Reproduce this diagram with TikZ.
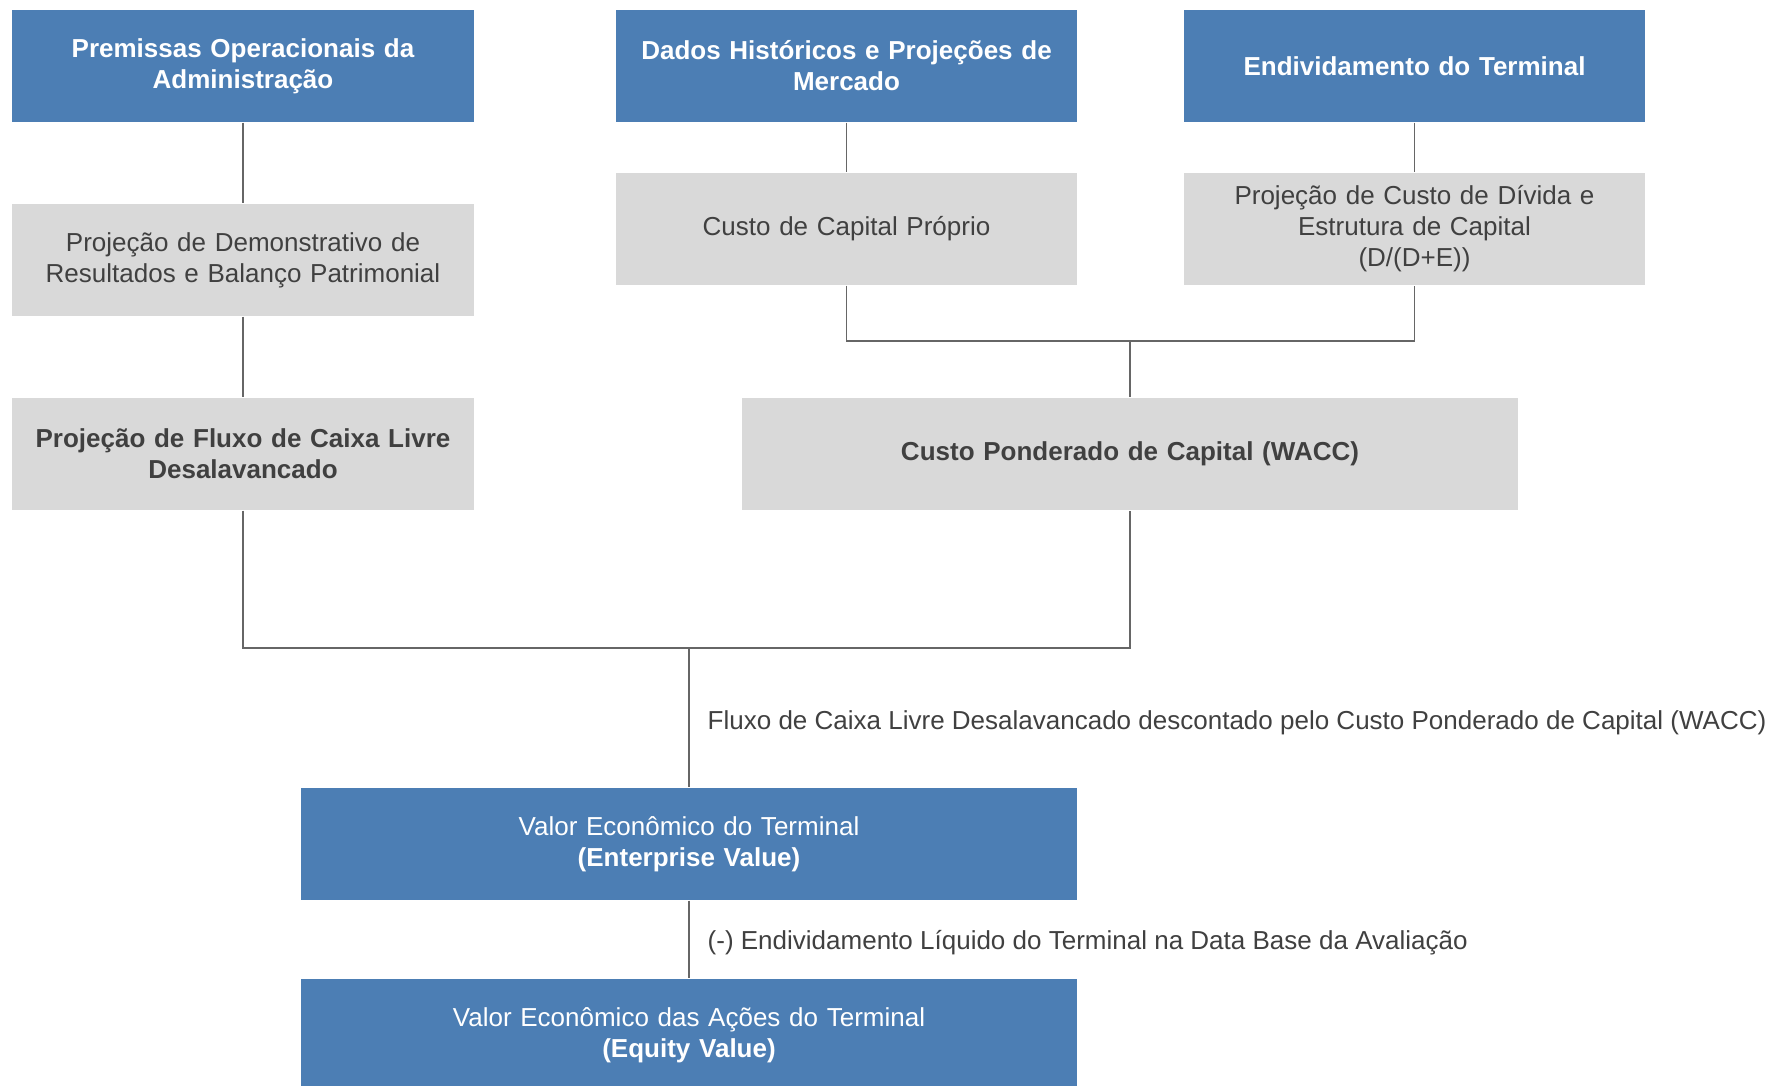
\documentclass[tikz,border=0pt]{standalone}
\usepackage{fontspec}
\setmainfont{Liberation Sans}
\usepackage{tikz}
\usetikzlibrary{positioning}
\definecolor{azul}{HTML}{4C7EB4}
\definecolor{cinza}{HTML}{D9D9D9}
\definecolor{texto}{HTML}{404040}
\definecolor{linha}{HTML}{666666}
\newcommand{\tamanho}{\fontsize{7.4}{8.8}\selectfont}
\tikzstyle{blockA} = [rectangle, fill=azul, text=white, font=\tamanho\bfseries,
text width=4.5cm, align=center, minimum width=4.61cm, minimum height=1.12cm, inner sep=0pt]
\tikzstyle{blockB} = [rectangle, fill=cinza, text=texto, font=\tamanho,
text width=4.5cm, align=center, minimum width=4.61cm, minimum height=1.12cm, inner sep=0pt]
\tikzstyle{blockC} = [rectangle, fill=azul, text=white, font=\tamanho,
text width=7.5cm, align=center, minimum width=7.76cm, minimum height=1.12cm, inner sep=0pt]
\tikzstyle{rotulo} = [text=texto, font=\tamanho, anchor=west, inner sep=0pt]
\tikzstyle{line} = [draw, linha, line width=0.4pt]

\begin{document}
\begin{tikzpicture}
	\useasboundingbox (0,0) rectangle (17.75,-10.85);
	% linha de cima
	\node [blockA] at (2.43,-0.66) (Premissas) {Premissas Operacionais da\\Administração};
	\node [blockA] at (8.465,-0.66) (Dados) {Dados Históricos e Projeções de\\Mercado};
	\node [blockA] at (14.145,-0.66) (Endiv) {Endividamento do Terminal};
	% projeções
	\node [blockB] at (2.43,-2.6) (ProjDRE) {Projeção de Demonstrativo de\\Resultados e Balanço Patrimonial};
	\node [blockB] at (8.465,-2.29) (Ke) {Custo de Capital Próprio};
	\node [blockB] at (14.145,-2.29) (Kd) {Projeção de Custo de Dívida e\\Estrutura de Capital\\(D/(D+E))};
	\node [blockB, font=\tamanho\bfseries] at (2.43,-4.54) (FCL) {Projeção de Fluxo de Caixa Livre\\Desalavancado};
	\node [blockB, font=\tamanho\bfseries, text width=7.5cm, minimum width=7.76cm] at (11.3,-4.54) (WACC) {Custo Ponderado de Capital (WACC)};
	% valores
	\node [blockC] at (6.89,-8.44) (EV) {Valor Econômico do Terminal\\\textbf{(Enterprise Value)}};
	\node [blockC] at (6.89,-10.35) (Equity) {Valor Econômico das Ações do Terminal\\\textbf{(Equity Value)}};
	\coordinate (jWACC) at (11.3,-3.41);
	\coordinate (jEV) at (6.89,-6.48);
	\node [rotulo] at (7.07,-7.23) (desconto) {Fluxo de Caixa Livre Desalavancado descontado pelo Custo Ponderado de Capital (WACC)};
	\node [rotulo] at (7.07,-9.43) (divida) {(-) Endividamento Líquido do Terminal na Data Base da Avaliação};
	% conexões
	\path [line] (Premissas) -- (ProjDRE);
	\path [line] (ProjDRE) -- (FCL);
	\path [line] (Dados) -- (Ke);
	\path [line] (Endiv) -- (Kd);
	\path [line] (Ke.south) |- (jWACC) -| (Kd.south);
	\path [line] (jWACC) -- (WACC);
	\path [line] (FCL.south) |- (jEV) -| (WACC.south);
	\path [line] (jEV) -- (EV);
	\path [line] (EV) -- (Equity);
\end{tikzpicture}
\end{document}
